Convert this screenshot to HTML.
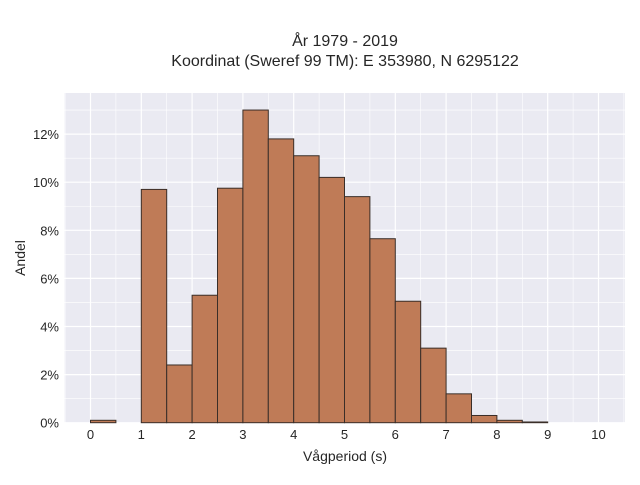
<!DOCTYPE html>
<html><head><meta charset="utf-8"><style>
body{margin:0;background:#fff;font-family:"Liberation Sans",sans-serif;}
svg text{font-family:"Liberation Sans",sans-serif;fill:#262626;}
</style></head><body>
<svg id="chart" width="640" height="480" xmlns="http://www.w3.org/2000/svg">
<text x="345" y="46" font-size="16" text-anchor="middle">År 1979 - 2019</text>
<text x="345" y="66" font-size="16" text-anchor="middle">Koordinat (Sweref 99 TM): E 353980, N 6295122</text>
<rect x="64.5" y="93" width="560.5" height="329.7" fill="#eaeaf2"/>
<g id="grid"></g>
<g id="bars"></g>
<g id="ticks"></g>
<text x="345" y="461" font-size="14" text-anchor="middle">Vågperiod (s)</text>
<text x="25" y="258" font-size="14" text-anchor="middle" transform="rotate(-90 25 258)">Andel</text>
</svg>
<script>
const binStarts=[0,0.5,1,1.5,2,2.5,3,3.5,4,4.5,5,5.5,6,6.5,7,7.5,8,8.5,9,9.5];
const shares=[0.1,0,9.7,2.4,5.3,9.75,13.0,11.8,11.1,10.2,9.4,7.65,5.05,3.1,1.2,0.3,0.1,0.03,0,0];
const xTicks=[0,1,2,3,4,5,6,7,8,9,10];
const yTicks=[0,2,4,6,8,10,12];
const binWidth=0.5;
const NS="http://www.w3.org/2000/svg";
const px=v=>90.5+50.8*v;
const py=v=>422.7-24.05*v;
const grid=document.getElementById('grid'),bars=document.getElementById('bars'),ticks=document.getElementById('ticks');
function mk(tag,attrs,parent){const e=document.createElementNS(NS,tag);for(const k in attrs)e.setAttribute(k,attrs[k]);parent.appendChild(e);return e;}
for(let v=-0.5;v<=10.5;v+=0.5){const x=px(v);if(x<64.5||x>625)continue;
const l=mk('line',{x1:x,x2:x,y1:93,y2:422.7,stroke:'#fff','stroke-width':v%1===0?1.2:0.6},grid);

}
for(let v=0;v<=13;v+=1){const y=py(v);if(y<93)continue;
const l=mk('line',{x1:64.5,x2:625,y1:y,y2:y,stroke:'#fff','stroke-width':v%2===0?1.2:0.6},grid);

}
binStarts.forEach((s,i)=>{const v=shares[i];if(v<=0)return;
const r=mk('rect',{x:px(s),y:py(v),width:px(s+binWidth)-px(s),height:py(0)-py(v),fill:'#bf7b57',stroke:'#3a2e28','stroke-width':1},bars);

});
xTicks.forEach(t=>{const e=mk('text',{x:px(t),y:439,'font-size':13,'text-anchor':'middle'},ticks);e.textContent=t;

});
yTicks.forEach(t=>{const e=mk('text',{x:59,y:py(t)+5,'font-size':13,'text-anchor':'end'},ticks);e.textContent=t+'%';

});
</script>
</body></html>
